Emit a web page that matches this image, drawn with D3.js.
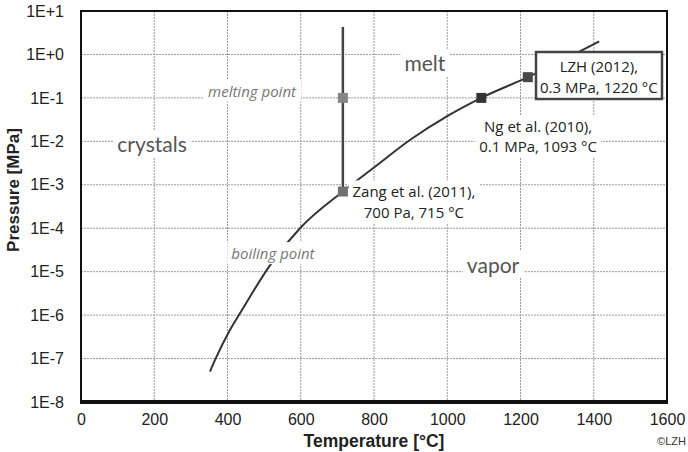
<!DOCTYPE html>
<html>
<head>
<meta charset="utf-8">
<script src="https://cdn.jsdelivr.net/npm/d3@7"></script>
<style>
  body { margin: 0; background: #fff; }
</style>
</head>
<body>
<div id="chart-area"></div>
<script>
// boiling curve (temperature in °C, pressure in MPa)
var boilT = [352, 366, 407, 434, 516, 598, 715, 800, 900, 1000, 1093, 1220, 1415];
var boilP = [5e-8, 9.3e-8, 4.6e-7, 1.1e-6, 1.4e-5, 1e-4, 7e-4, 2.5e-3, 0.011, 0.038, 0.1, 0.3, 2.0];

// melting line
var meltT = [715, 715];
var meltP = [7e-4, 4.3];

// measured points
var pointNames = ["melting", "Zang", "Ng", "LZH"];
var pointT = [715, 715, 1093, 1220];
var pointP = [0.1, 7e-4, 0.1, 0.3];
var pointColor = ["#858585", "#707070", "#333333", "#474747"];

var xTicks = [0, 200, 400, 600, 800, 1000, 1200, 1400, 1600];
var yTicks = [1e-8, 1e-7, 1e-6, 1e-5, 1e-4, 1e-3, 1e-2, 1e-1, 1e0, 1e1];
var yTickLabels = ["1E-8", "1E-7", "1E-6", "1E-5", "1E-4", "1E-3", "1E-2", "1E-1", "1E+0", "1E+1"];

var svg = d3.select("#chart-area").append("svg")
  .attr("width", 688)
  .attr("height", 452)
  .attr("font-family", "'Liberation Sans', Arial, sans-serif");

var x = d3.scaleLinear().domain([0, 1600]).range([81, 667]);
var y = d3.scaleLog().domain([1e-8, 1e1]).range([402, 11]);

// grid
svg.append("g").selectAll("line").data(yTicks.slice(1, -1)).enter().append("line")
  .attr("x1", 81).attr("x2", 667)
  .attr("y1", d => y(d)).attr("y2", d => y(d))
  .attr("stroke", "#9a9a9a").attr("stroke-width", 1).attr("stroke-dasharray", "2,1");
svg.append("g").selectAll("line").data(xTicks.slice(1, -1)).enter().append("line")
  .attr("x1", d => x(d)).attr("x2", d => x(d))
  .attr("y1", 11).attr("y2", 402)
  .attr("stroke", "#9a9a9a").attr("stroke-width", 1).attr("stroke-dasharray", "2,1");

// axes (labels only, no ticks)
var xAxis = svg.append("g").attr("transform", "translate(0,402)")
  .call(d3.axisBottom(x).tickValues(xTicks).tickSize(0).tickPadding(12).tickFormat(d3.format("d")));
var yAxis = svg.append("g").attr("transform", "translate(81,0)")
  .call(d3.axisLeft(y).tickValues(yTicks).tickSize(0).tickPadding(17)
    .tickFormat((d, i) => yTickLabels[i]));
[xAxis, yAxis].forEach(a => {
  a.select(".domain").remove();
  a.attr("font-family", "'Liberation Sans', Arial, sans-serif").attr("font-size", 16);
  a.selectAll("text").attr("fill", "#222");
});

// frame
svg.append("rect").attr("x", 81).attr("y", 11).attr("width", 586).attr("height", 391)
  .attr("fill", "none").attr("stroke", "#111").attr("stroke-width", 2);
svg.append("line").attr("x1", 80).attr("x2", 668).attr("y1", 402).attr("y2", 402)
  .attr("stroke", "#111").attr("stroke-width", 4);

// curves
var line = d3.line().x(d => x(d[0])).y(d => y(d[1])).curve(d3.curveMonotoneX);
svg.append("path").datum(boilT.map((t, i) => [t, boilP[i]]))
  .attr("d", line).attr("fill", "none").attr("stroke", "#333").attr("stroke-width", 2);
svg.append("path").datum(meltT.map((t, i) => [t, meltP[i]]))
  .attr("d", d3.line().x(d => x(d[0])).y(d => y(d[1])))
  .attr("fill", "none").attr("stroke", "#444").attr("stroke-width", 2.5);

// labels with white background
function note(t, p, lines, opts) {
  var g = svg.append("g");
  var bg = g.append("rect").attr("fill", "#fff");
  var txt = g.append("text")
    .attr("x", x(t)).attr("y", y(p))
    .attr("text-anchor", "middle")
    .attr("font-family", opts.font || "'Open Sans', sans-serif")
    .attr("font-size", opts.size)
    .attr("font-style", opts.italic ? "italic" : "normal")
    .attr("fill", opts.color);
  lines.forEach((s, i) => {
    txt.append("tspan").attr("x", x(t)).attr("dy", i == 0 ? "0.35em" : opts.lh).text(s);
  });
  var b = txt.node().getBBox();
  bg.attr("x", b.x - 4).attr("y", b.y - 1).attr("width", b.width + 8).attr("height", b.height + 2);
  return g;
}

note(194, Math.pow(10, -2.08), ["crystals"], {size: 21, color: "#555", font: "Lato, sans-serif"});
note(939, Math.pow(10, -0.22), ["melt"], {size: 21, color: "#555", font: "Lato, sans-serif"});
note(1125, Math.pow(10, -4.85), ["vapor"], {size: 21, color: "#555", font: "Lato, sans-serif"});
note(467, Math.pow(10, -0.86), ["melting point"], {size: 15, italic: true, color: "#777"});
note(524, Math.pow(10, -4.59), ["boiling point"], {size: 15, italic: true, color: "#777"});
note(909, Math.pow(10, -3.17), ["Zang et al. (2011),", "700 Pa, 715 °C"], {size: 15, color: "#222", lh: "1.4em"});
note(1248, Math.pow(10, -1.67), ["Ng et al. (2010),", "0.1 MPa, 1093 °C"], {size: 15, color: "#222", lh: "1.33em"});

// LZH boxed label
var box = note(1414, Math.pow(10, -0.288), ["LZH (2012),", "0.3 MPa, 1220 °C"], {size: 15, color: "#222", lh: "1.4em"});
box.select("rect").attr("x", 536).attr("y", 52).attr("width", 126).attr("height", 47)
  .attr("stroke", "#444").attr("stroke-width", 2.5);

// markers
svg.append("g").selectAll("rect").data(pointNames).enter().append("rect")
  .attr("x", (d, i) => x(pointT[i]) - 5)
  .attr("y", (d, i) => y(pointP[i]) - 5)
  .attr("width", 10).attr("height", 10)
  .attr("fill", (d, i) => pointColor[i]);

// axis titles
svg.append("text").attr("x", 374).attr("y", 447).attr("text-anchor", "middle")
  .attr("font-size", 17.5).attr("font-weight", "bold").attr("fill", "#222")
  .text("Temperature [°C]");
svg.append("text").attr("transform", "translate(19,190) rotate(-90)").attr("text-anchor", "middle")
  .attr("font-size", 17).attr("font-weight", "bold").attr("fill", "#222")
  .text("Pressure [MPa]");
svg.append("text").attr("x", 686).attr("y", 445).attr("text-anchor", "end")
  .attr("font-size", 11).attr("fill", "#333").text("©LZH");
</script>
</body>
</html>
